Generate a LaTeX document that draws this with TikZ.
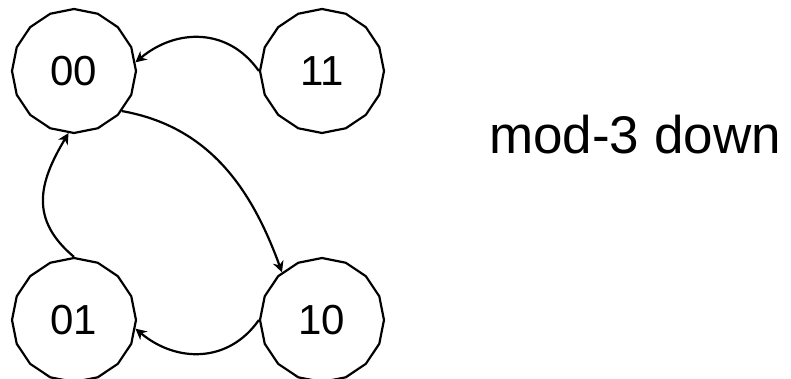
\documentclass[tikz,border=0pt]{standalone}
\usepackage{fontspec}
\setmainfont{Liberation Sans}
\usetikzlibrary{shapes.geometric,arrows.meta}
\begin{document}
\begin{tikzpicture}[x=1pt,y=-1pt,
  state/.style={draw,line width=2.2pt,regular polygon,regular polygon sides=16,
    regular polygon rotate=11.25,minimum size=124pt,inner sep=0pt,
    font=\fontsize{42}{42}\selectfont},
  arr/.style={line width=2.2pt,-{Stealth[length=11pt,width=11pt,inset=3.5pt]}}]
\useasboundingbox (0,0) rectangle (791,378);
\node[state] (n00) at (74,71) {00};
\node[state] (n11) at (322,71) {11};
\node[state] (n01) at (74,320) {01};
\node[state] (n10) at (322,320) {10};
\node[anchor=base west,inner sep=0pt,font=\fontsize{53}{53}\selectfont] (lbl) at (489,153) {mod-3 down};
\draw[arr] (n11.180) to[out=125,in=40,looseness=1.1] (n00.8);
\draw[arr] (n00.-40) to[out=-10,in=110] (n10.130);
\draw[arr] (n10.180) to[out=-125,in=-40,looseness=1.1] (n01.-8);
\draw[arr] (n01.90) to[out=140,in=-121,looseness=1.2] (n00.-95);
\end{tikzpicture}
\end{document}
